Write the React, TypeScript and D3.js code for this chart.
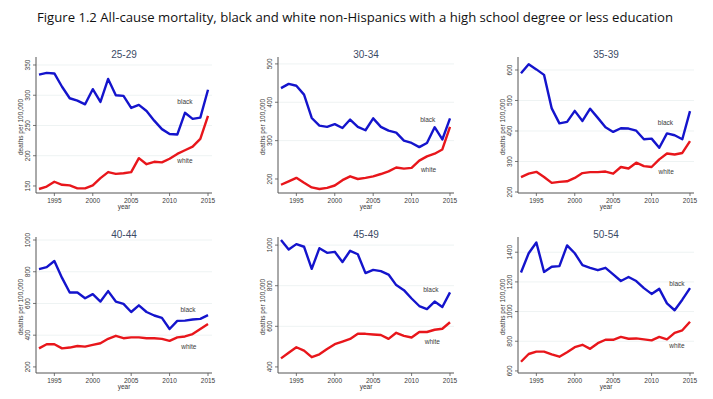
import * as d3 from 'd3';

const years = d3.range(1993, 2016);
const ageGroups = ['25-29', '30-34', '35-39', '40-44', '45-49', '50-54'];
const xTicks = [1995, 2000, 2005, 2010, 2015];

const black2529 = [334, 337, 336, 314, 295, 291, 285, 310, 289, 327, 300, 299, 279, 284, 274, 258, 244, 236, 235, 271, 261, 263, 309];
const white2529 = [145, 149, 157, 152, 151, 146, 146, 151, 163, 173, 170, 171, 173, 196, 186, 190, 189, 195, 203, 209, 215, 228, 266];
const black3034 = [437, 448, 443, 420, 359, 339, 336, 343, 333, 355, 336, 327, 358, 336, 326, 321, 300, 294, 283, 294, 335, 303, 358];
const white3034 = [185, 194, 203, 190, 178, 174, 177, 183, 197, 207, 200, 203, 207, 213, 220, 230, 227, 229, 248, 259, 266, 277, 336];
const black3539 = [589, 619, 602, 584, 474, 425, 430, 466, 433, 473, 443, 412, 397, 409, 408, 401, 373, 375, 345, 392, 386, 373, 465];
const white3539 = [249, 260, 266, 249, 230, 233, 235, 246, 262, 265, 265, 267, 260, 282, 277, 296, 285, 282, 307, 326, 323, 328, 367];
const black4044 = [817, 829, 868, 761, 669, 669, 633, 659, 612, 678, 612, 597, 546, 588, 546, 524, 509, 439, 490, 492, 499, 503, 526];
const white4044 = [317, 343, 343, 317, 322, 332, 328, 339, 349, 377, 396, 381, 386, 386, 381, 381, 377, 364, 386, 392, 407, 439, 471];
const black4549 = [1025, 978, 1005, 992, 883, 985, 962, 967, 917, 972, 955, 862, 878, 872, 855, 803, 778, 737, 700, 685, 722, 695, 767];
const white4549 = [442, 470, 497, 480, 448, 462, 488, 512, 525, 538, 563, 563, 560, 557, 538, 568, 553, 545, 572, 572, 583, 588, 620];
const black5054 = [1263, 1393, 1466, 1267, 1302, 1306, 1446, 1393, 1313, 1295, 1279, 1295, 1251, 1206, 1233, 1206, 1158, 1119, 1153, 1055, 1009, 1080, 1158];
const white5054 = [662, 714, 730, 730, 712, 696, 726, 760, 776, 749, 787, 810, 810, 829, 817, 819, 813, 806, 829, 813, 856, 874, 931];

const blackSeries = [black2529, black3034, black3539, black4044, black4549, black5054];
const whiteSeries = [white2529, white3034, white3539, white4044, white4549, white5054];

const yTicks = [
  [150, 200, 250, 300, 350],
  [200, 300, 400, 500],
  [200, 300, 400, 500, 600],
  [200, 400, 600, 800, 1000],
  [400, 600, 800, 1000],
  [600, 800, 1000, 1200, 1400],
];
const yDomains = [
  [138.4, 363.2],
  [163.5, 518],
  [196.7, 642.6],
  [161.6, 1019],
  [370, 1040],
  [586, 1502.6],
];
// label anchor positions (year, value) for "black" / "white"
const blackLabelPos = [[2012, 288], [2012.1, 355], [2011.8, 427], [2012.4, 561], [2012.5, 778], [2013.3, 1187]];
const whiteLabelPos = [[2012, 192], [2012.2, 224], [2011.9, 266], [2012.5, 326], [2012.7, 522], [2013.3, 765]];

const colLefts = [36, 278, 518];
const rowTops = [57, 237];
const plotW = 176;
const plotH = 136;
const BLUE = '#1414cc';
const RED = '#e8161b';
const TXT = '#3a3a3a';
const FONT = 'Liberation Sans, Arial, sans-serif';

function Panel({ i }: { i: number }) {
  const left = colLefts[i % 3];
  const top = rowTops[Math.floor(i / 3)];
  const x = d3.scaleLinear().domain([1992.61, 2015.52]).range([left, left + plotW]);
  const y = d3.scaleLinear().domain(yDomains[i]).range([top + plotH, top]);
  const line = d3.line<number>()
    .x((_, k) => x(years[k]))
    .y(d => y(d));
  const bottom = top + plotH;
  const ticks = yTicks[i];
  return (
    <g>
      <text x={left + plotW / 2} y={top + 1} textAnchor="middle" fontSize={10} fill="#3b4a66" fontFamily={FONT}>
        {ageGroups[i]}
      </text>
      {ticks.slice(1).map(t => (
        <line key={'g' + t} x1={left} x2={left + plotW} y1={y(t)} y2={y(t)} stroke="#eef3f3" strokeWidth={1} />
      ))}
      <line x1={left} x2={left} y1={top} y2={bottom} stroke="#555" strokeWidth={1} />
      <line x1={left} x2={left + plotW} y1={bottom} y2={bottom} stroke="#555" strokeWidth={1} />
      {ticks.map(t => (
        <g key={'y' + t}>
          <line x1={left - 3} x2={left} y1={y(t)} y2={y(t)} stroke="#555" strokeWidth={0.8} />
          <text
            transform={`translate(${left - 6},${y(t)}) rotate(-90)`}
            textAnchor="middle"
            fontSize={6.5}
            fill={TXT}
            fontFamily={FONT}
          >
            {t}
          </text>
        </g>
      ))}
      {xTicks.map(t => (
        <g key={'x' + t}>
          <line x1={x(t)} x2={x(t)} y1={bottom} y2={bottom + 3} stroke="#555" strokeWidth={0.8} />
          <text x={x(t)} y={bottom + 9.5} textAnchor="middle" fontSize={6.5} fill={TXT} fontFamily={FONT}>
            {t}
          </text>
        </g>
      ))}
      <text x={left + plotW / 2} y={bottom + 16} textAnchor="middle" fontSize={6.5} fill={TXT} fontFamily={FONT}>
        year
      </text>
      <text
        transform={`translate(${left - 13},${top + plotH / 2 + 2}) rotate(-90)`}
        textAnchor="middle"
        fontSize={6.5}
        fill={TXT}
        fontFamily={FONT}
      >
        deaths per 100,000
      </text>
      <path d={line(whiteSeries[i]) ?? ''} fill="none" stroke={RED} strokeWidth={2.4} strokeLinejoin="round" />
      <path d={line(blackSeries[i]) ?? ''} fill="none" stroke={BLUE} strokeWidth={2.4} strokeLinejoin="round" />
      <text x={x(blackLabelPos[i][0])} y={y(blackLabelPos[i][1]) + 2} textAnchor="middle" fontSize={6.5} fill={TXT} fontFamily={FONT}>
        black
      </text>
      <text x={x(whiteLabelPos[i][0])} y={y(whiteLabelPos[i][1]) + 2} textAnchor="middle" fontSize={6.5} fill={TXT} fontFamily={FONT}>
        white
      </text>
    </g>
  );
}

export default function App() {
  return (
    <svg
      width={713}
      height={399}
      style={{ position: 'absolute', left: 0, top: 0, background: '#fff' }}
    >
      <rect width={713} height={399} fill="#fff" />
      <text
        x={37}
        y={22}
        fontSize={13.5}
        fill="#111"
        fontFamily="Open Sans, Noto Sans, sans-serif"
        textLength={636}
        lengthAdjust="spacingAndGlyphs"
      >
        Figure 1.2 All-cause mortality, black and white non-Hispanics with a high school degree or less education
      </text>
      {ageGroups.map((_, i) => (
        <Panel key={i} i={i} />
      ))}
    </svg>
  );
}
